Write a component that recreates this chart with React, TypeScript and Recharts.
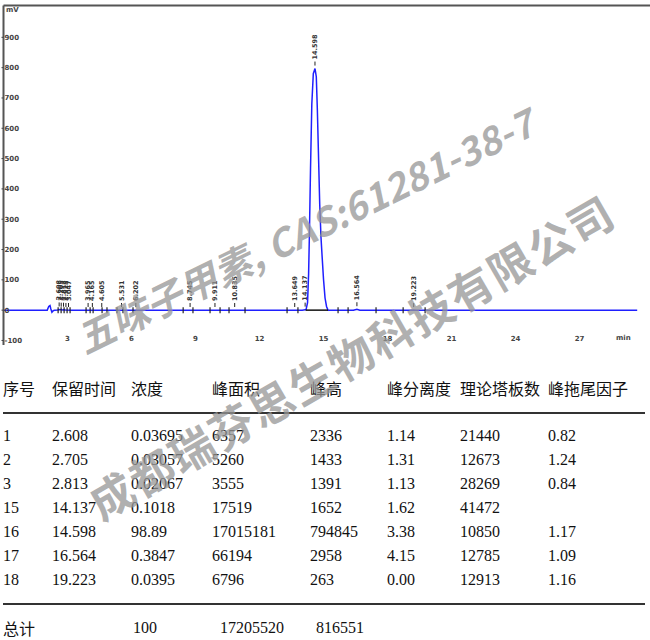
import { ComposedChart, Line, XAxis, YAxis, ReferenceLine } from 'recharts';

// chromatogram trace (min, mV)
const traceTimes = [0, 2.05, 2.12, 2.18, 2.22, 2.27, 2.33, 2.4, 2.55, 2.608, 2.66, 2.705, 2.76, 2.813, 2.9, 3.2, 14.0, 14.137, 14.18, 14.25, 14.3, 14.34, 14.39, 14.45, 14.52, 14.6, 14.66, 14.71, 14.76, 14.82, 14.88, 14.93, 15.0, 15.07, 15.14, 15.21, 16.4, 16.564, 16.7, 19.1, 19.223, 19.35, 29.7];
const traceValues = [0, 0, 12, 15, 4, -7, -2, 0, 0.5, 2.3, 1, 1.4, 0.8, 1.4, 0.3, 0, 0, 1.6, 2, 25, 120, 260, 470, 680, 780, 797, 770, 660, 520, 350, 240, 180, 100, 40, 12, 0, 0, 3, 0, 0, 0.3, 0, 0];

// integrated peaks
const peakTimes = [2.608, 2.705, 2.813, 2.925, 3.047, 3.965, 4.165, 4.605, 5.531, 6.202, 8.745, 9.911, 10.835, 13.649, 14.137, 14.598, 16.564, 19.223];
const peakLabels = ['2.608', '2.705', '2.813', '2.925', '3.047', '3.965', '4.165', '4.605', '5.531', '6.202', '8.745', '9.911', '10.835', '13.649', '14.137', '14.598', '16.564', '19.223'];
const peakHeights = [2.3, 1.4, 1.4, 0.5, 0.5, 0.5, 0.5, 0.5, 0.5, 0.5, 0.5, 0.5, 0.5, 0.5, 1.7, 797, 3, 0.3];

// start / end markers along the baseline
const markerTimes = [2.56, 2.7, 2.84, 2.98, 3.12, 3.87, 4.06, 4.2, 4.62, 4.85, 5.32, 5.6, 6.07, 8.42, 8.88, 9.68, 10.15, 10.57, 11.32, 13.29, 13.8, 15.68, 16.15, 17.46, 18.73, 19.76];

// drawn baseline under the main peak
const baseTimes = [14.16, 15.21];

const xTicks = [3, 6, 9, 12, 15, 18, 21, 24, 27];
const yTicks = [-100, 0, 100, 200, 300, 400, 500, 600, 700, 800, 900];

// result table
const headers = ['序号', '保留时间', '浓度', '峰面积', '峰高', '峰分离度', '理论塔板数', '峰拖尾因子'];
const peakNo = ['1', '2', '3', '15', '16', '17', '18'];
const retention = ['2.608', '2.705', '2.813', '14.137', '14.598', '16.564', '19.223'];
const concentration = ['0.03695', '0.03057', '0.02067', '0.1018', '98.89', '0.3847', '0.0395'];
const area = ['6357', '5260', '3555', '17519', '17015181', '66194', '6796'];
const height = ['2336', '1433', '1391', '1652', '794845', '2958', '263'];
const resolution = ['1.14', '1.31', '1.13', '1.62', '3.38', '4.15', '0.00'];
const plates = ['21440', '12673', '28269', '41472', '10850', '12785', '12913'];
const tailing = ['0.82', '1.24', '0.84', '', '1.17', '1.09', '1.16'];
const totals = ['总计', '', '100', '17205520', '816551', '', '', ''];

const trace = traceTimes.map((t, i) => ({ t, v: traceValues[i] }));
const peaks = peakTimes.map((t, i) => ({ t, v: peakHeights[i], label: peakLabels[i] }));
const markers = markerTimes.map((t) => ({ t, v: 0 }));
const baseline = baseTimes.map((t) => ({ t, v: 0 }));

const colX = [3, 52, 131, 212, 310, 387, 460, 548];
const rowY = [436, 460, 484, 508, 532, 556, 580];

const PeakLabel = (props: any) => {
  const { cx, cy, payload } = props;
  if (cx == null || cy == null) return null;
  return (
    <g key={'pk' + payload.t}>
      <line x1={cx} x2={cx} y1={cy - 3} y2={cy - 7} stroke="#222" strokeWidth={1} />
      <text
        x={cx + 2}
        y={cy - 9}
        transform={`rotate(-90 ${cx + 2} ${cy - 9})`}
        fontSize={6.5}
        fontFamily="DejaVu Sans"
        fontWeight="bold"
        fill="#333"
      >
        {payload.label}
      </text>
    </g>
  );
};

const Marker = (props: any) => {
  const { cx, cy, index } = props;
  if (cx == null || cy == null) return null;
  return <line key={'mk' + index} x1={cx} x2={cx} y1={cy - 3} y2={cy + 3} stroke="#222" strokeWidth={1.2} />;
};

const XTick = (props: any) => {
  const { x, payload } = props;
  // labels sit just inside the plot, level with the -100 tick
  return (
    <text x={x} y={339} dy="0.35em" textAnchor="middle" fontSize={7} fontFamily="DejaVu Sans" fontWeight="bold" fill="#444">
      {payload.value}
    </text>
  );
};

const YTick = (props: any) => {
  const { x, y, payload } = props;
  return (
    <g>
      <line x1={x} x2={x + 2} y1={y} y2={y} stroke="#444" />
      <text x={x + 3} y={y} dy="0.35em" textAnchor="start" fontSize={7} fontFamily="DejaVu Sans" fontWeight="bold" fill="#444">
        {payload.value}
      </text>
    </g>
  );
};

const rows = peakNo.map((n, i) => [n, retention[i], concentration[i], area[i], height[i], resolution[i], plates[i], tailing[i]]);

const cellFont = { fontSize: 16, fontFamily: 'Liberation Serif', color: '#111', lineHeight: '20px', whiteSpace: 'nowrap' as const };
const mark = { fontFamily: 'Noto Sans CJK SC', fontWeight: 'bold' as const, color: 'rgba(150,150,150,0.75)', whiteSpace: 'nowrap' as const, pointerEvents: 'none' as const };

export default function App() {
  return (
    <div style={{ position: 'absolute', left: 0, top: 0, width: 650, height: 640, background: '#fff', overflow: 'hidden' }}>
      <ComposedChart width={650} height={370} margin={{ top: 5.5, right: 0, bottom: 5, left: 0 }}>
        <XAxis
          type="number"
          dataKey="t"
          domain={[0, 30.3]}
          ticks={xTicks}
          height={20}
          axisLine={false}
          tickLine={false}
          tick={<XTick />}
          allowDataOverflow
        />
        <YAxis
          type="number"
          dataKey="v"
          domain={[-115, 1005]}
          ticks={yTicks}
          width={3.5}
          axisLine={{ stroke: '#555', strokeWidth: 2 }}
          tickLine={false}
          tickSize={0}
          tick={<YTick />}
          allowDataOverflow
        />
        <ReferenceLine y={1005} stroke="#555" strokeWidth={2} />
        <Line data={trace} dataKey="v" stroke="#1f1fff" strokeWidth={1.5} dot={false} isAnimationActive={false} />
        <Line data={baseline} dataKey="v" stroke="#111" strokeWidth={1.5} dot={false} isAnimationActive={false} />
        <Line data={markers} dataKey="v" stroke="none" dot={<Marker />} isAnimationActive={false} />
        <Line data={peaks} dataKey="v" stroke="none" dot={<PeakLabel />} isAnimationActive={false} />
      </ComposedChart>
      <span style={{ position: 'absolute', left: 6, top: 6, fontSize: 7, fontFamily: 'DejaVu Sans', fontWeight: 'bold', color: '#444' }}>mV</span>
      <span style={{ position: 'absolute', left: 616, top: 334, fontSize: 7, fontFamily: 'DejaVu Sans', fontWeight: 'bold', color: '#444' }}>min</span>

      {headers.map((h, i) => (
        <span key={'h' + i} style={{ position: 'absolute', left: colX[i], top: 378, fontSize: 16, fontFamily: 'Noto Sans CJK SC', color: '#111', whiteSpace: 'nowrap', lineHeight: '20px' }}>
          {h}
        </span>
      ))}
      <div style={{ position: 'absolute', left: 3, top: 412, width: 642, height: 2, background: '#333' }} />
      {rows.map((r, ri) =>
        r.map((c, ci) => (
          <span key={'c' + ri + '-' + ci} style={{ position: 'absolute', left: colX[ci], top: rowY[ri] - 10, ...cellFont }}>
            {c}
          </span>
        ))
      )}
      <div style={{ position: 'absolute', left: 3, top: 603, width: 642, height: 2, background: '#333' }} />
      {totals.map((c, ci) => (
        <span
          key={'t' + ci}
          style={{
            position: 'absolute',
            left: ci === 0 ? 3 : colX[ci] + (ci === 3 ? 8 : ci === 4 ? 6 : 2),
            top: 618,
            ...cellFont,
            ...(ci === 0 ? { fontFamily: 'Noto Sans CJK SC' } : {}),
          }}
        >
          {c}
        </span>
      ))}

      <div style={{ position: 'absolute', left: 78, top: 318, transformOrigin: '0 50%', transform: 'rotate(-26deg)', fontSize: 38, fontStyle: 'italic', lineHeight: '44px', ...mark }}>
        五味子甲素, CAS:61281-38-7
      </div>
      <div style={{ position: 'absolute', left: 92, top: 482, transformOrigin: '0 50%', transform: 'rotate(-30deg)', fontSize: 44, letterSpacing: 2, lineHeight: '46px', ...mark }}>
        成都瑞芬思生物科技有限公司
      </div>
    </div>
  );
}
